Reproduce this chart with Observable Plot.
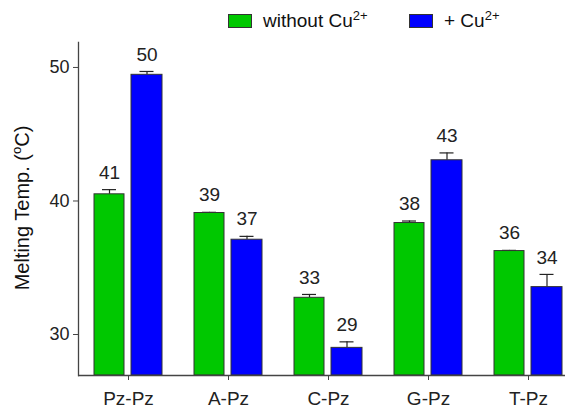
<!DOCTYPE html>
<html><head><meta charset="utf-8">
<script src="https://cdn.jsdelivr.net/npm/d3@7"></script>
<script src="https://cdn.jsdelivr.net/npm/@observablehq/plot@0.6"></script>
<style>
body{margin:0;background:#fff;font-family:Arial,"Liberation Sans",sans-serif;}
#wrap{position:relative;width:565px;height:409px;}
#chart svg{display:block;}
.leg{position:absolute;top:10px;font-size:19px;color:#111;display:flex;align-items:center;white-space:nowrap;}
.sw{width:22px;height:12px;border:1px solid #333;margin-right:11px;}
.leg sup{font-size:13px;vertical-align:7px;line-height:0;}
#ylab{position:absolute;left:22px;top:208px;transform:translate(-50%,-50%) rotate(-90deg);font-size:20px;color:#111;white-space:nowrap;}
#ylab sup{font-size:13px;vertical-align:8px;line-height:0;}
</style></head>
<body><div id="wrap"><div id="chart"></div>
<div class="leg" id="l1" style="left:228px"></div>
<div class="leg" id="l2" style="left:409px"></div>
<div id="ylab">Melting Temp. (<sup>o</sup>C)</div>
</div>
<script>
const categories = ["Pz-Pz","A-Pz","C-Pz","G-Pz","T-Pz"];
const seriesNames = ["without Cu", "+ Cu"];
const colors = ["#00c800", "#0000ff"];
const withoutCu = [40.5, 39.1, 32.75, 38.35, 36.25];
const withoutCuErr = [40.85, 39.15, 33.0, 38.5, 36.3];
const withCu = [49.45, 37.1, 29.0, 43.05, 33.55];
const withCuErr = [49.7, 37.35, 29.45, 43.6, 34.5];
const labelsWithout = ["41","39","33","38","36"];
const labelsWith = ["50","37","29","43","34"];
const yTicks = [30, 40, 50];
const yMin = 26.93, yMax = 51.87;

document.getElementById("l1").innerHTML = `<div class="sw" style="background:${colors[0]}"></div><span>${seriesNames[0]}<sup>2+</sup></span>`;
document.getElementById("l2").innerHTML = `<div class="sw" style="background:${colors[1]}"></div><span>${seriesNames[1]}<sup>2+</sup></span>`;

const g = categories.map((c,i)=>({c, v: withoutCu[i], e: withoutCuErr[i], t: labelsWithout[i]}));
const b = categories.map((c,i)=>({c, v: withCu[i], e: withCuErr[i], t: labelsWith[i]}));

const ink = "#222";
const plot = Plot.plot({
  width: 565, height: 409,
  marginTop: 42, marginBottom: 34, marginLeft: 78, marginRight: 0,
  style: {fontFamily: 'Arial, "Liberation Sans", sans-serif', color: ink, background: "white"},
  x: {domain: categories, range: [78, 578], padding: 0},
  y: {domain: [yMin, yMax], range: [375, 42]},
  marks: [
    Plot.ruleX(g, {x: "c", y1: "v", y2: "e", dx: -19, stroke: ink, strokeWidth: 1.2}),
    Plot.ruleX(b, {x: "c", y1: "v", y2: "e", dx: 18.5, stroke: ink, strokeWidth: 1.2}),
    Plot.tickY(g, {x: "c", y: "e", insetLeft: 24, insetRight: 62, stroke: ink, strokeWidth: 1.2}),
    Plot.tickY(b, {x: "c", y: "e", insetLeft: 61.5, insetRight: 24.5, stroke: ink, strokeWidth: 1.2}),
    Plot.barY(g, {x: "c", y1: yMin, y2: "v", insetLeft: 16, insetRight: 54, fill: colors[0], stroke: "#333", strokeWidth: 1}),
    Plot.barY(b, {x: "c", y1: yMin, y2: "v", insetLeft: 53, insetRight: 16, fill: colors[1], stroke: "#333", strokeWidth: 1}),
    Plot.text(g, {x: "c", y: "e", text: "t", dx: -19, dy: -17, fontSize: 19, fill: ink}),
    Plot.text(b, {x: "c", y: "e", text: "t", dx: 18.5, dy: -17, fontSize: 19, fill: ink}),
    Plot.ruleY([yMin], {stroke: "#444", strokeWidth: 1.3}),
    Plot.frame({anchor: "left", stroke: "#444", strokeWidth: 1.3}),
    Plot.axisY({ticks: yTicks, tickSize: 5, tickPadding: 4, fontSize: 18, label: null, stroke: "#444"}),
    Plot.axisX({tickSize: 5, tickPadding: 11, fontSize: 19, label: null, stroke: "#444"})
  ]
});
document.getElementById("chart").appendChild(plot);
</script></body></html>
